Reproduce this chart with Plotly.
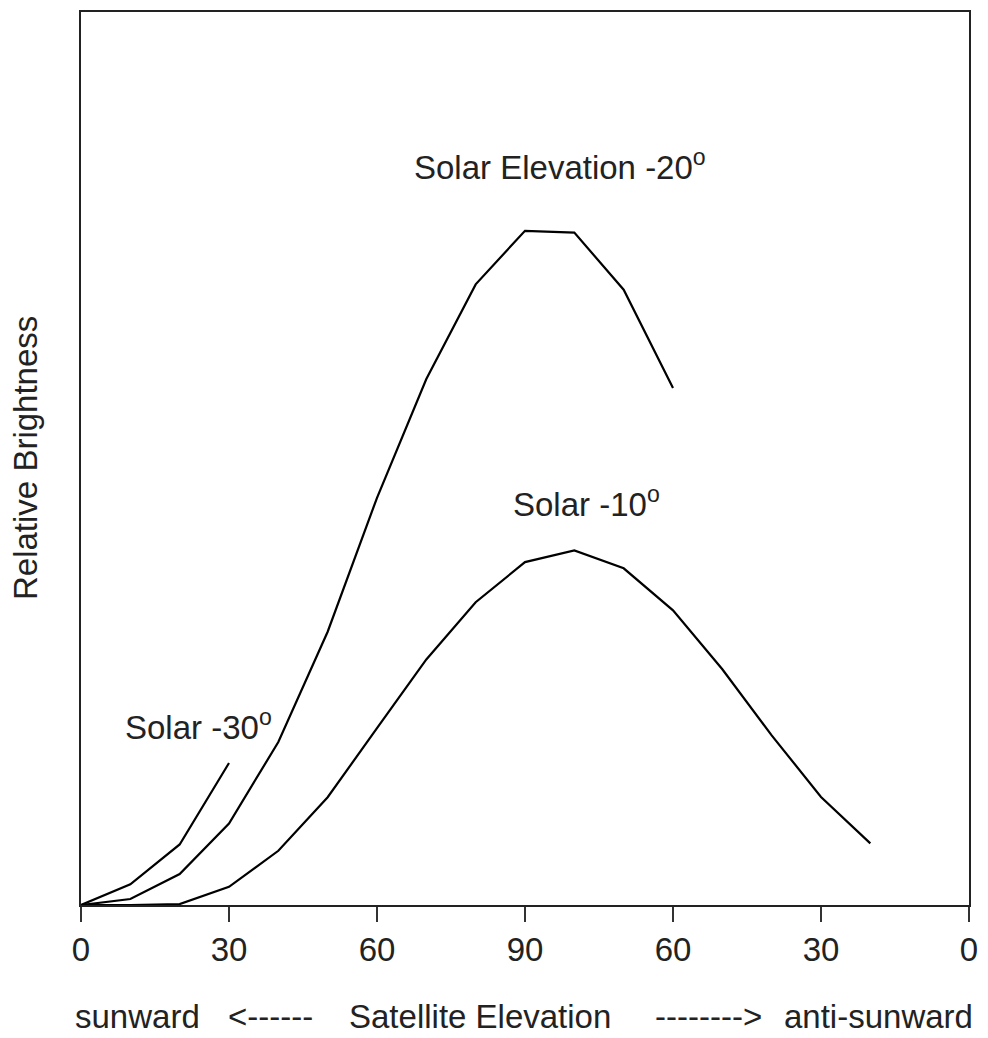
import plotly.graph_objects as go

# Satellite elevation path: 0 (sunward) -> 90 (zenith) -> 0 (anti-sunward), as 0..180 degrees along the path
path_deg_20 = [0, 10, 20, 30, 40, 50, 60, 70, 80, 90, 100, 110, 120]
bright_20 = [0, 0.67, 3.46, 9.13, 18.25, 30.6, 45.6, 58.9, 69.5, 75.5, 75.3, 68.9, 57.9]

path_deg_10 = [0, 10, 20, 30, 40, 50, 60, 70, 80, 90, 100, 110, 120, 130, 140, 150, 160]
bright_10 = [0, 0, 0.1, 2.04, 6.07, 12.07, 19.8, 27.5, 33.9, 38.4, 39.7, 37.7, 33.0, 26.4, 19.0, 12.1, 6.9]

path_deg_30 = [0, 10, 20, 30]
bright_30 = [0, 2.31, 6.78, 15.9]

tick_vals = [0, 30, 60, 90, 120, 150, 180]
tick_text = ["0", "30", "60", "90", "60", "30", "0"]

FONT = "Arial, Liberation Sans, sans-serif"
FS = 33

fig = go.Figure()
for xs, ys in [(path_deg_20, bright_20), (path_deg_10, bright_10), (path_deg_30, bright_30)]:
    fig.add_trace(go.Scatter(x=xs, y=ys, mode="lines",
                             line=dict(color="black", width=2.2),
                             showlegend=False, hoverinfo="skip"))

annots = [
    dict(text="Solar Elevation -20<sup>o</sup>", x=67.1, y=82.9, xref="x", yref="y",
         xanchor="left", yanchor="middle"),
    dict(text="Solar -10<sup>o</sup>", x=87.2, y=45.1, xref="x", yref="y",
         xanchor="left", yanchor="middle"),
    dict(text="Solar -30<sup>o</sup>", x=8.5, y=20.2, xref="x", yref="y",
         xanchor="left", yanchor="middle"),
    dict(text="Relative Brightness", x=-0.0625, y=0.5, xref="paper", yref="paper",
         textangle=-90, xanchor="center", yanchor="middle"),
    dict(text="sunward", x=-0.009, y=-0.125, xref="paper", yref="paper",
         xanchor="left", yanchor="middle"),
    dict(text="<------", x=0.163, y=-0.125, xref="paper", yref="paper",
         xanchor="left", yanchor="middle"),
    dict(text="Satellite Elevation", x=0.300, y=-0.125, xref="paper", yref="paper",
         xanchor="left", yanchor="middle"),
    dict(text="-------->", x=0.644, y=-0.125, xref="paper", yref="paper",
         xanchor="left", yanchor="middle"),
    dict(text="anti-sunward", x=1.007, y=-0.125, xref="paper", yref="paper",
         xanchor="right", yanchor="middle"),
]
for a in annots:
    a.update(showarrow=False, font=dict(family=FONT, size=FS, color="#222"))
    fig.add_annotation(**a)

fig.update_layout(
    width=988, height=1038,
    margin=dict(l=81, r=11, t=10, b=133),
    paper_bgcolor="white", plot_bgcolor="white",
    font=dict(family=FONT, size=FS, color="#222"),
    xaxis=dict(range=[0, 180], tickmode="array", tickvals=tick_vals, ticktext=tick_text,
               ticks="outside", ticklen=15, tickwidth=1.5, tickcolor="#333",
               showgrid=False, zeroline=False, showline=True, linecolor="#222",
               linewidth=1.5, mirror=True, tickfont=dict(size=FS, color="#222")),
    yaxis=dict(range=[0, 100], showticklabels=False, ticks="", showgrid=False,
               zeroline=False, showline=True, linecolor="#222", linewidth=1.5, mirror=True),
)

fig.write_html("out.html", config={"displayModeBar": False},
               post_script="document.body.style.margin='0';document.body.style.overflow='hidden';")
